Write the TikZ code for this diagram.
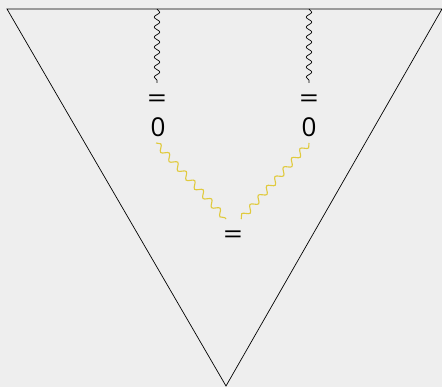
\documentclass[tikz,border=0pt]{standalone}
\usepackage{fontspec}
\usepackage{graphicx}
\setmainfont{Open Sans}
\definecolor{bggray}{RGB}{238,238,238}
\definecolor{wyellow}{RGB}{224,202,62}
\usetikzlibrary{decorations.pathmorphing}

\begin{document}
\begin{tikzpicture}[x=1pt,y=-1pt,
  wave/.style={decorate, decoration={snake, segment length=10pt, amplitude=2.8pt}, line width=0.7pt},
  sym/.style={inner sep=0pt, font=\fontsize{26}{28}\selectfont}]
  \fill[bggray] (0,0) rectangle (442,387);
  \useasboundingbox (0,0) rectangle (442,387);

  % outer triangle
  \draw[line width=0.7pt] (7,9) -- (442,9) -- (226,386) -- cycle;

  % legs
  \coordinate (topL) at (157,9);
  \coordinate (topR) at (309,9);
  \coordinate (botL) at (157,83);
  \coordinate (botR) at (309,83);
  \node[sym] (eqL) at (157,101) {\scalebox{1.3}[1]{=}};
  \node[sym] (eqR) at (309,101) {\scalebox{1.3}[1]{=}};
  \node[sym] (zeroL) at (158,127) {0};
  \node[sym] (zeroR) at (309,127) {0};
  \node[sym] (eqM) at (233,237) {\scalebox{1.3}[1]{=}};
  \coordinate (inL) at (156,143);
  \coordinate (inR) at (309,143);
  \coordinate (outL) at (226,219);
  \coordinate (outR) at (241,219);

  \draw[wave] (topL) -- (botL);
  \draw[wave] (topR) -- (botR);
  \draw[wave, wyellow, line width=1.1pt, decoration={segment length=12.5pt, amplitude=3pt}] (inL) -- (outL);
  \draw[wave, wyellow, line width=1.1pt, decoration={segment length=12.5pt, amplitude=3pt}] (inR) -- (outR);
\end{tikzpicture}
\end{document}
